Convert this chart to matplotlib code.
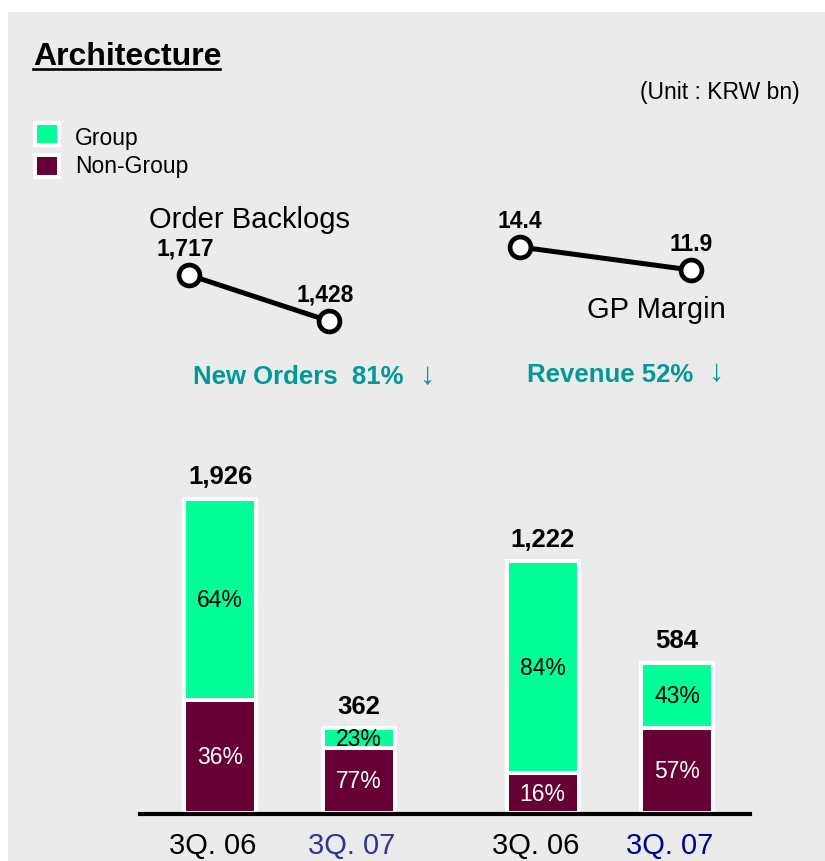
import numpy as np
import matplotlib.pyplot as plt
from matplotlib.patches import Rectangle
from matplotlib.lines import Line2D
from matplotlib.transforms import ScaledTranslation

plt.rcParams['font.family'] = ['Liberation Sans', 'DejaVu Sans']

# data
periods = ['3Q. 06', '3Q. 07', '3Q. 06', '3Q. 07']
period_colors = ['black', '#333399', 'black', '#000099']
totals = [1926, 362, 1222, 584]
group_pct = [64, 23, 84, 43]
nongroup_pct = [36, 77, 16, 57]

backlog_vals = [1717, 1428]
backlog_lbls = ['1,717', '1,428']
margin_vals = [14.4, 11.9]
margin_lbls = ['14.4', '11.9']

GREEN = '#00ff99'
MAROON = '#660033'
TEAL = '#009999'
GRAY = '#ebebeb'

W, H = 825, 862
fig = plt.figure(figsize=(W / 100, H / 100), dpi=100)
fig.patch.set_facecolor('white')

def fx(px):
    return px / W

def fy(py):
    return 1 - py / H

def box(l, t, r, b):
    return [fx(l), fy(b), fx(r) - fx(l), fy(t) - fy(b)]

# gray panel
fig.patches.append(Rectangle((fx(8), 0), 1 - fx(8), fy(13), transform=fig.transFigure,
                             facecolor=GRAY, edgecolor='none', zorder=-5))

# title with underline
fig.text(fx(33), fy(65), 'Architecture', fontsize=23, fontweight='bold', va='baseline')
fig.lines.append(Line2D([fx(33), fx(220)], [fy(69.5), fy(69.5)], transform=fig.transFigure,
                        color='black', lw=1.9))
fig.text(fx(800), fy(92), '(Unit : KRW bn)', fontsize=16.5, ha='right', va='center')

# legend
for yc, col, name, ty in [(135, GREEN, 'Group', 138), (167, MAROON, 'Non-Group', 166)]:
    fig.patches.append(Rectangle((fx(35), fy(yc + 11)), fx(24), 22 / H, transform=fig.transFigure,
                                 facecolor=col, edgecolor='white', lw=2.9, zorder=2))
    fig.text(fx(75), fy(ty), name, fontsize=16.5, va='center')

# order backlogs line
ax1 = fig.add_axes(box(189, 276, 329, 322))
ax1.plot([0, 1], backlog_vals, color='black', lw=3.6, marker='o', ms=15, mew=3.4,
         mfc='white', mec='black', clip_on=False)
for i, (v, s) in enumerate(zip(backlog_vals, backlog_lbls)):
    ax1.annotate(s, (i, v), xytext=(-3, 15), textcoords='offset points', ha='center',
                 va='baseline', fontsize=16.5, fontweight='bold')
ax1.set_xlim(0, 1)
ax1.set_ylim(backlog_vals[1], backlog_vals[0])
ax1.axis('off')
fig.text(fx(149), fy(228), 'Order Backlogs', fontsize=21, va='baseline')

# GP margin line
ax2 = fig.add_axes(box(520, 248, 691, 271))
ax2.plot([0, 1], margin_vals, color='black', lw=3.6, marker='o', ms=15, mew=3.4,
         mfc='white', mec='black', clip_on=False)
for i, (v, s) in enumerate(zip(margin_vals, margin_lbls)):
    ax2.annotate(s, (i, v), xytext=(0, 14.5), textcoords='offset points', ha='center',
                 va='baseline', fontsize=16.5, fontweight='bold')
ax2.set_xlim(0, 1)
ax2.set_ylim(margin_vals[1], margin_vals[0])
ax2.axis('off')
fig.text(fx(587), fy(318), 'GP Margin', fontsize=21, va='baseline')

# change texts
fig.text(fx(193), fy(384), 'New Orders  81%', fontsize=18.5, fontweight='bold',
         color=TEAL, va='baseline')
fig.text(fx(428), fy(376), '\u2193', fontsize=22, color=TEAL, ha='center', va='center')
fig.text(fx(527), fy(382), 'Revenue 52%', fontsize=18.5, fontweight='bold',
         color=TEAL, va='baseline')
fig.text(fx(717), fy(373), '\u2193', fontsize=22, color=TEAL, ha='center', va='center')

# bars (log scale)
ax = fig.add_axes(box(140, 470, 750, 814.5))
ax.set_facecolor('none')
x = np.array([0, 1, 2.33, 3.3])
base = 195
tot = np.array(totals, dtype=float)
share = np.array(nongroup_pct) / 100
split = base * (tot / base) ** share
ax.set_yscale('log')
ax.bar(x, split - base, bottom=base, width=0.52, color=MAROON, edgecolor='white', lw=2.9)
ax.bar(x, tot - split, bottom=split, width=0.52, color=GREEN, edgecolor='white', lw=2.9)
for i in range(4):
    ax.text(x[i], np.sqrt(base * split[i]), f'{nongroup_pct[i]}%', color='white',
            ha='center', va='center', fontsize=16.5)
    ax.text(x[i], np.sqrt(split[i] * tot[i]), f'{group_pct[i]}%', color='black',
            ha='center', va='center', fontsize=16.5)
    ax.annotate(f'{totals[i]:,}', (x[i], tot[i]), xytext=(0, 11), textcoords='offset points',
                ha='center', va='baseline', fontsize=18.5, fontweight='bold')
ax.set_ylim(base, 2390)
ax.set_xlim(-0.578, 3.827)
for s in ['left', 'right', 'top']:
    ax.spines[s].set_visible(False)
ax.spines['bottom'].set_linewidth(3)
ax.set_yticks([])
ax.yaxis.set_minor_locator(plt.NullLocator())
ax.set_xticks(x)
ax.set_xticklabels(periods, fontsize=21)
ax.tick_params(axis='x', length=0, pad=12.5)
off = ScaledTranslation(-7 / 100, 0, fig.dpi_scale_trans)
for lab, c in zip(ax.get_xticklabels(), period_colors):
    lab.set_color(c)
    lab.set_transform(lab.get_transform() + off)

fig.savefig('out.png', dpi=100)
